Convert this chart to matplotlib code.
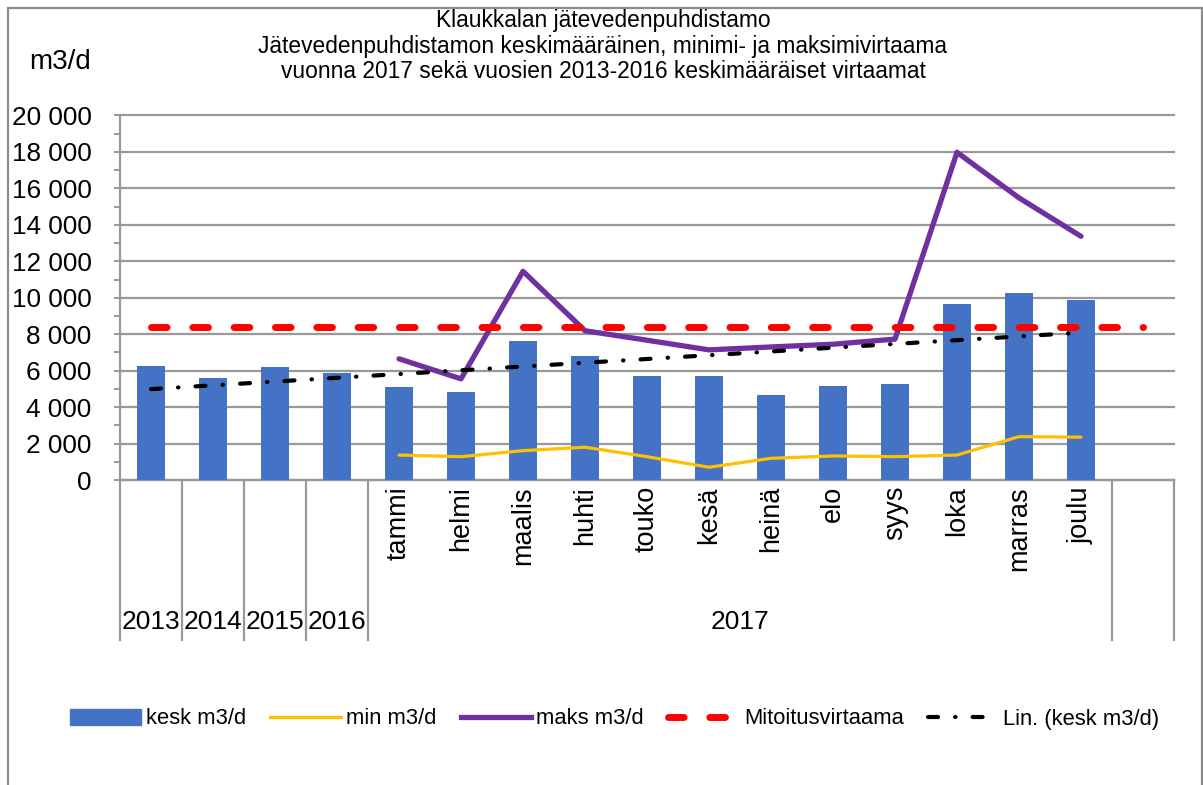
import numpy as np
import matplotlib
matplotlib.use("Agg")
import matplotlib.pyplot as plt
from matplotlib.patches import Rectangle, Patch
from matplotlib.lines import Line2D
import matplotlib.transforms as mtransforms
from matplotlib.ticker import MultipleLocator, FuncFormatter

# ---------------- data ----------------
years = ["2013", "2014", "2015", "2016"]
months = ["tammi", "helmi", "maalis", "huhti", "touko", "kesä",
          "heinä", "elo", "syys", "loka", "marras", "joulu"]
group_2017 = "2017"
kesk = [6250, 5620, 6190, 5860,
        5090, 4830, 7640, 6830, 5710, 5680, 4650, 5150, 5270, 9670, 10260, 9890]
min_vals = [1370, 1280, 1610, 1800, 1280, 700, 1190, 1320, 1280, 1370, 2380, 2350]
maks_vals = [6650, 5550, 11450, 8190, 7670, 7140, 7300, 7450, 7730, 17980, 15480, 13370]
mitoitus = [8400, 8400, 8400, 8400, 8400, 8400, 8400, 8400, 8400,
            8400, 8400, 8400, 8400, 8400, 8400, 8400, 8400]
yticks = [0, 2000, 4000, 6000, 8000, 10000, 12000, 14000, 16000, 18000, 20000]
title_lines = ["Klaukkalan jätevedenpuhdistamo",
               "Jätevedenpuhdistamon keskimääräinen, minimi- ja maksimivirtaama",
               "vuonna 2017 sekä vuosien 2013-2016 keskimääräiset virtaamat"]
legend_labels = ["kesk m3/d", "min m3/d", "maks m3/d", "Mitoitusvirtaama", "Lin. (kesk m3/d)"]

# ---------------- style ----------------
plt.rcParams["font.family"] = ["Liberation Sans", "DejaVu Sans"]
TICK_FS = 18.8
MONTH_FS = 19.5
YEAR_FS = 19
TITLE_FS = 16.4
LEG_FS = 15.8
UNIT_FS = 20

BLUE = "#4472C4"
YELLOW = "#FFC000"
PURPLE = "#7030A0"
RED = "#FF0000"
GRAY = "#999999"

W, H = 1203, 785
def fx(px): return px / W
def fy(py): return 1 - py / H

fig = plt.figure(figsize=(W / 100, H / 100), dpi=100)
ax = fig.add_axes([fx(120), fy(480), fx(1174) - fx(120), fy(115.5) - fy(480)])

n_cat = len(years) + len(months) + 1
xs_all = np.arange(n_cat)
xs_kesk = np.arange(len(kesk))
xs_month = np.arange(len(years), len(years) + len(months))

ax.bar(xs_kesk, kesk, width=0.46, color=BLUE, zorder=3)
ax.plot(xs_month, min_vals, color=YELLOW, lw=2.3, zorder=4, solid_capstyle="round")
ax.plot(xs_month, maks_vals, color=PURPLE, lw=3.8, zorder=4, solid_capstyle="round")
ax.plot(xs_all, mitoitus, color=RED, lw=5, dashes=[2.25, 3.7],
        dash_capstyle="round", zorder=5)
coef = np.polyfit(xs_kesk, kesk, 1)
trend = np.polyval(coef, xs_kesk)
ax.plot(xs_kesk, trend, color="black", lw=3, dashes=[2.4, 4.1, 0.1, 4.1],
        dash_capstyle="round", zorder=6)

ax.set_xlim(-0.5, n_cat - 0.5)
ax.set_ylim(0, 20000)
ax.set_yticks(yticks)
ax.yaxis.set_minor_locator(MultipleLocator(1000))
ax.yaxis.set_major_formatter(FuncFormatter(lambda v, p: f"{int(v):,}".replace(",", " ")))
ax.set_xticks([])
ax.yaxis.grid(True, which="major", color=GRAY, lw=1.6)
for gl in ax.get_ygridlines():
    gl.set_clip_on(False)
ax.set_axisbelow(True)
for s in ["top", "right"]:
    ax.spines[s].set_visible(False)
for s in ["left", "bottom"]:
    ax.spines[s].set_color(GRAY)
    ax.spines[s].set_linewidth(1.6)
ax.tick_params(axis="y", which="both", direction="out", length=4.5, width=1.4,
               color=GRAY, labelsize=TICK_FS, pad=16)

# category axis separators and labels
blend = mtransforms.blended_transform_factory(ax.transData, ax.transAxes)
axh = 480 - 115.5
sep_bottom = -(640 - 480) / axh
for xsep in [-0.5, 0.5, 1.5, 2.5, 3.5, len(kesk) - 0.5, n_cat - 0.5]:
    ax.add_line(Line2D([xsep, xsep], [0, sep_bottom], transform=blend, clip_on=False,
                       color=GRAY, lw=1.6))
for i, m in zip(xs_month, months):
    ax.text(i, -(486 - 480) / axh, m, transform=blend, rotation=90, ha="center",
            va="top", fontsize=MONTH_FS)
for i, yv in enumerate(years):
    ax.text(i, -(622 - 480) / axh, yv, transform=blend, ha="center", va="center",
            fontsize=YEAR_FS)
ax.text((xs_month[0] + xs_month[-1]) / 2, -(622 - 480) / axh, group_2017, transform=blend,
        ha="center", va="center", fontsize=YEAR_FS)

# titles
for t, py in zip(title_lines, [21, 46, 71]):
    fig.text(fx(603), fy(py), t, ha="center", va="center", fontsize=TITLE_FS)
fig.text(fx(60), fy(62), "m3/d", ha="center", va="center", fontsize=UNIT_FS)

# legend
handles = [Patch(facecolor=BLUE, edgecolor=BLUE),
           Line2D([], [], color=YELLOW, lw=2.3),
           Line2D([], [], color=PURPLE, lw=3.8),
           Line2D([], [], color=RED, lw=5, dashes=[2.25, 3.7], dash_capstyle="round"),
           Line2D([], [], color="black", lw=3, dashes=[2.4, 4.1, 0.1, 4.1], dash_capstyle="round")]
fig.legend(handles, legend_labels, loc="center", bbox_to_anchor=(fx(615), fy(719)),
           ncol=5, frameon=False, handlelength=3.2, handletextpad=0.25,
           columnspacing=1.1, fontsize=LEG_FS)

# chart border
fig.add_artist(Rectangle((fx(7.5), -0.05), fx(1201.5) - fx(7.5), fy(7.5) + 0.05,
                         transform=fig.transFigure, fill=False, edgecolor="#8c8c8c", lw=1.6))

fig.savefig("out.png", dpi=100)
